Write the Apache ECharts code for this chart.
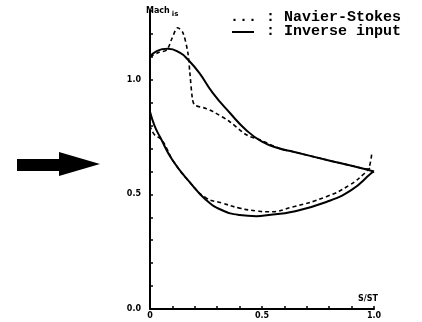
<!DOCTYPE html>
<html>
<head>
<meta charset="utf-8">
<script src="https://cdn.jsdelivr.net/npm/echarts@6/dist/echarts.min.js"></script>
<style>
  html, body { margin: 0; padding: 0; background: #fff; }
  #chart { width: 422px; height: 322px; }
</style>
</head>
<body>
<div id="chart"></div>
<script>
  // inverse input (solid), upper branch
  var invUpperS = [0, 0.03, 0.08, 0.133, 0.17, 0.22, 0.28, 0.356, 0.43, 0.50, 0.578, 0.64, 0.79, 0.90, 1.0];
  var invUpperM = [1.10, 1.125, 1.135, 1.118, 1.087, 1.03, 0.943, 0.856, 0.78, 0.73, 0.70, 0.686, 0.65, 0.625, 0.60];
  // inverse input (solid), lower branch
  var invLowerS = [0, 0.02, 0.045, 0.1, 0.18, 0.25, 0.32, 0.40, 0.475, 0.53, 0.636, 0.787, 0.90, 0.99, 1.0];
  var invLowerM = [0.86, 0.80, 0.75, 0.65, 0.55, 0.476, 0.432, 0.41, 0.405, 0.41, 0.424, 0.467, 0.52, 0.594, 0.60];
  // navier-stokes (dashed), upper branch
  var nsUpperS = [0, 0.04, 0.075, 0.098, 0.124, 0.147, 0.169, 0.178, 0.19, 0.20, 0.25, 0.28, 0.356, 0.43, 0.49, 0.58, 0.64, 0.79, 0.90, 0.97, 0.99];
  var nsUpperM = [1.10, 1.12, 1.13, 1.18, 1.227, 1.205, 1.118, 1.03, 0.913, 0.89, 0.875, 0.862, 0.817, 0.76, 0.738, 0.70, 0.686, 0.65, 0.625, 0.61, 0.68];
  // navier-stokes (dashed), lower branch
  var nsLowerS = [0, 0.02, 0.05, 0.08, 0.1, 0.18, 0.25, 0.32, 0.40, 0.476, 0.53, 0.636, 0.787, 0.89, 0.96, 0.985];
  var nsLowerM = [0.80, 0.76, 0.74, 0.69, 0.65, 0.55, 0.485, 0.463, 0.44, 0.428, 0.424, 0.445, 0.49, 0.54, 0.594, 0.62];

  var yLabelValues = [0, 0.5, 1.0];
  var yLabelTexts = ['0.0', '0.5', '1.0'];
  var xLabelValues = [0, 0.5, 1.0];
  var xLabelTexts = ['0', '0.5', '1.0'];

  function pairs(s, m) {
    var out = [];
    for (var i = 0; i < s.length; i++) out.push([s[i], m[i]]);
    return out;
  }
  function pick(vals, texts, v) {
    for (var i = 0; i < vals.length; i++) {
      if (Math.abs(vals[i] - v) < 1e-6) return texts[i];
    }
    return '';
  }

  var chart = echarts.init(document.getElementById('chart'));
  var labelFont = { fontFamily: 'DejaVu Sans', fontWeight: 'bold', fontSize: 8, color: '#000' };

  var solid = { color: '#000', width: 2, type: 'solid' };
  var dashed = { color: '#000', width: 1.6, type: [4, 3] };

  chart.setOption({
    animation: false,
    backgroundColor: '#fff',
    grid: { left: 150, right: 48, top: 11, bottom: 13 },
    xAxis: {
      type: 'value', min: 0, max: 1.0, interval: 0.1,
      splitLine: { show: false },
      axisLine: { lineStyle: { color: '#000', width: 2 } },
      axisTick: { inside: true, length: 3, lineStyle: { color: '#000', width: 1.5 } },
      axisLabel: Object.assign({ margin: 3, formatter: function (v) { return pick(xLabelValues, xLabelTexts, v); } }, labelFont)
    },
    yAxis: {
      type: 'value', min: 0, max: 1.3, interval: 0.1,
      splitLine: { show: false },
      axisLine: { onZero: false, lineStyle: { color: '#000', width: 2 } },
      axisTick: { inside: true, length: 3, lineStyle: { color: '#000', width: 1.5 } },
      axisLabel: Object.assign({ margin: 9, formatter: function (v) { return pick(yLabelValues, yLabelTexts, v); } }, labelFont)
    },
    series: [
      { name: 'Inverse input', type: 'line', data: pairs(invUpperS, invUpperM), smooth: 0.5, showSymbol: false, lineStyle: solid },
      { name: 'Inverse input', type: 'line', data: pairs(invLowerS, invLowerM), smooth: 0.5, showSymbol: false, lineStyle: solid },
      { name: 'Navier-Stokes', type: 'line', data: pairs(nsUpperS, nsUpperM), smooth: 0.3, showSymbol: false, lineStyle: dashed },
      { name: 'Navier-Stokes', type: 'line', data: pairs(nsLowerS, nsLowerM), smooth: 0.5, showSymbol: false, lineStyle: dashed }
    ],
    graphic: [
      // axis names
      { type: 'text', left: 146, top: 7, style: {
          text: '{m|Mach}{s|is}', fill: '#000',
          rich: { m: { fontFamily: 'DejaVu Sans', fontWeight: 'bold', fontSize: 8 },
                  s: { fontFamily: 'DejaVu Sans', fontWeight: 'bold', fontSize: 7, padding: [6, 0, 0, 2] } } } },
      { type: 'text', left: 358, top: 295, style: { text: 'S/ST', fill: '#000', font: 'bold 8px "DejaVu Sans"' } },
      // legend
      { type: 'text', left: 230, top: 10, style: { text: '... : Navier-Stokes', fill: '#000', font: 'bold 15px "Liberation Mono"' } },
      { type: 'line', shape: { x1: 232, y1: 32, x2: 254, y2: 32 }, style: { stroke: '#000', lineWidth: 2 } },
      { type: 'text', left: 257, top: 24, style: { text: ' : Inverse input', fill: '#000', font: 'bold 15px "Liberation Mono"' } },
      // big arrow on the left
      { type: 'rect', shape: { x: 17, y: 159, width: 44, height: 12 }, style: { fill: '#000' } },
      { type: 'polygon', shape: { points: [[59, 152], [100, 164], [59, 176]] }, style: { fill: '#000' } }
    ]
  });
</script>
</body>
</html>
